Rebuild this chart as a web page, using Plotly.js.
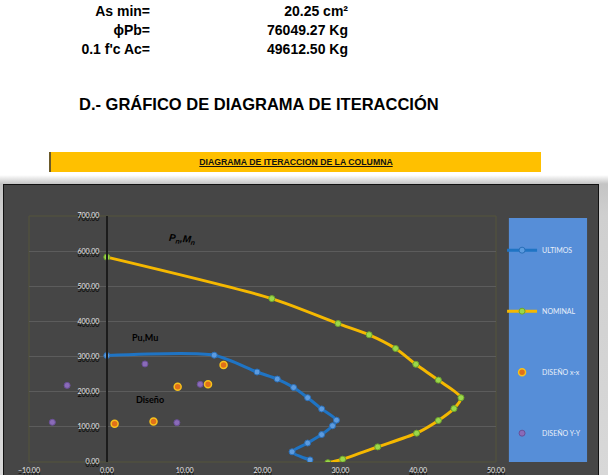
<!DOCTYPE html>
<html>
<head>
<meta charset="utf-8">
<script src="https://cdn.plot.ly/plotly-3.0.1.min.js"></script>
<style>
  html, body { margin:0; padding:0; background:#fff; width:608px; height:475px; overflow:hidden; position:relative; font-family:"Liberation Sans", Arial, sans-serif; }
  .t { position:absolute; font-weight:bold; font-size:14px; line-height:16px; color:#000; white-space:nowrap; }
  .r { text-align:right; }
  #title { position:absolute; left:79px; top:95px; font-size:16.5px; line-height:18px; font-weight:bold; white-space:nowrap; }
  #banner { position:absolute; left:49px; top:152px; width:490px; height:20px; background:#FFC000; border-left:2px solid #6b5a2a; text-align:center; font-size:8.7px; line-height:20px; font-weight:bold; text-decoration:underline; color:#111; }
  #shade { position:absolute; left:0; top:175px; width:608px; height:300px; background:linear-gradient(#ffffff 0px, #c4c4c4 9px, #cfcfcf 40px, #d8d8d8 300px); }
  #frame { position:absolute; left:3px; top:184px; width:594px; height:300px; border:1px solid #111; background:#464646; box-shadow: inset 0 1px 0 #8a8a8a; }
  #chart { position:absolute; left:0; top:0; width:594px; height:300px; }
</style>
</head>
<body>
<div class="t r" style="left:0; width:150px; top:3px;">As min=</div>
<div class="t r" style="left:200px; width:148px; top:3px;">20.25 cm²</div>
<div class="t r" style="left:0; width:150px; top:22px;">ϕPb=</div>
<div class="t r" style="left:200px; width:148px; top:22px;">76049.27 Kg</div>
<div class="t r" style="left:0; width:150px; top:41px;">0.1 f'c Ac=</div>
<div class="t r" style="left:200px; width:148px; top:41px;">49612.50 Kg</div>
<div id="title">D.- GRÁFICO DE DIAGRAMA DE ITERACCIÓN</div>
<div id="banner">DIAGRAMA DE ITERACCION DE LA COLUMNA</div>
<div id="shade"></div>
<div id="frame"><div id="chart"></div></div>
<script>
// ---- data (Mu / Mn in t·m, Pu / Pn in t) ----
const ultimosM = [0, 13.8, 19.3, 21.9, 24.0, 25.8, 27.6, 29.5, 29.0, 27.6, 25.8, 23.8, 26.1];
const ultimosP = [303, 304, 256, 236, 212, 183, 151, 119, 103, 78, 54, 29, 6];
const nominalM = [0, 21.2, 29.7, 33.7, 37.1, 39.7, 42.6, 45.5, 44.6, 42.6, 39.8, 34.8, 30.3, 28.4];
const nominalP = [583, 465, 394, 362, 323, 278, 233, 183, 152, 118, 82, 43, 8, -2];
const disenoXM = [1.0, 6.0, 9.1, 13.0, 15.0];
const disenoXP = [109, 115, 214, 221, 276];
const disenoYM = [-7.0, -5.1, 4.9, 9.0, 12.0];
const disenoYP = [113, 218, 279, 112, 221];
const seriesNames = ["ULTIMOS", "NOMINAL", "DISEÑO x-x", "DISEÑO Y-Y"];
const xTicks = [-10, 0, 10, 20, 30, 40, 50];
const yTicks = [0, 100, 200, 300, 400, 500, 600, 700];

const traces = [
  { x: ultimosM, y: ultimosP, name: seriesNames[0], legendgroup: "a", mode: "lines+markers",
    line: { color: "#1f74c4", width: 3, shape: "spline", smoothing: 0.7 },
    marker: { color: "#5b9be0", size: 6, line: { color: "#2a6fb8", width: 1 } } },
  { x: nominalM, y: nominalP, name: seriesNames[1], legendgroup: "b", mode: "lines+markers",
    line: { color: "#f5b800", width: 3, shape: "spline", smoothing: 0.7 },
    marker: { color: "#9bd84a", size: 6, line: { color: "#6fa52a", width: 1 } } },
  { x: disenoXM, y: disenoXP, name: seriesNames[2], legendgroup: "c", mode: "markers",
    marker: { color: "#e0701a", size: 7, line: { color: "#f7c21c", width: 1.5 } } },
  { x: disenoYM, y: disenoYP, name: seriesNames[3], legendgroup: "d", mode: "markers",
    marker: { color: "#8a6bb8", size: 6, line: { color: "#6a4f97", width: 1 } } }
];

const tickFont = { family: "Lato, 'Liberation Sans', sans-serif", size: 7, color: "#e6e6e6", shadow: "0px 3px 0px #000" };

const layout = {
  width: 594, height: 300,
  margin: { l: 25, r: 98, t: 31, b: 23 },
  paper_bgcolor: "#464646", plot_bgcolor: "#464646",
  showlegend: true,
  xaxis: { range: [-10, 50], tickvals: xTicks, tickformat: ".2f", showgrid: false, zeroline: false,
           showline: false, ticks: "", tickfont: tickFont, ticklabelstandoff: 3, fixedrange: true },
  yaxis: { range: [0, 700], tickvals: yTicks, tickformat: ".2f", showgrid: true, gridcolor: "#5c5c5c", gridwidth: 1,
           zeroline: false, showline: true, linecolor: "#1c1c1c", linewidth: 2, ticks: "",
           anchor: "free", position: 1/6, tickfont: tickFont, ticklabelstandoff: 5, fixedrange: true },
  legend: { x: 1.013, xanchor: "left", y: 0.92, yanchor: "top", bgcolor: "rgba(0,0,0,0)",
            font: { family: "Lato, 'Liberation Sans', sans-serif", size: 7, color: "#e8eef8" },
            traceorder: "grouped", tracegroupgap: 42, itemwidth: 30 },
  shapes: [
    { type: "rect", xref: "paper", yref: "paper", x0: 0, x1: 1, y0: 0, y1: 1,
      line: { color: "#55553a", width: 1 }, layer: "below" },
    { type: "rect", xref: "paper", yref: "paper", x0: 1.0276, x1: 1.195, y0: 0, y1: 0.992,
      fillcolor: "#568ed8", line: { width: 0 }, layer: "below" }
  ],
  annotations: [
    { x: 9.7, y: 634, xref: "x", yref: "y", text: "<i><b>P<sub>n</sub>,M<sub>n</sub></b></i>", showarrow: false,
      textangle: 5, font: { family: "'Liberation Sans', Arial, sans-serif", size: 10, color: "#000" } },
    { x: 4.9, y: 354, xref: "x", yref: "y", text: "<b>Pu,Mu</b>", showarrow: false,
      font: { family: "Lato, sans-serif", size: 9, color: "#000" } },
    { x: 5.6, y: 177, xref: "x", yref: "y", text: "<b>Diseño</b>", showarrow: false,
      font: { family: "Lato, sans-serif", size: 9, color: "#000" } }
  ]
};

Plotly.newPlot("chart", traces, layout, { displayModeBar: false, staticPlot: true });
</script>
</body>
</html>
